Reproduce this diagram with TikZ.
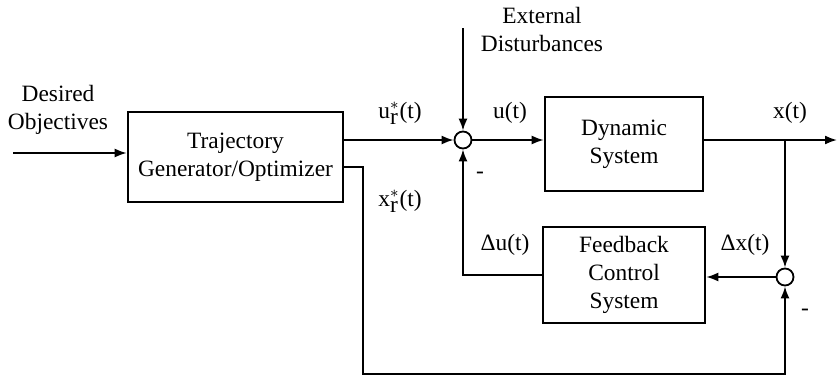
\documentclass[tikz,border=0pt]{standalone}
\usepackage{fontspec}
\setmainfont{Liberation Serif}
\usetikzlibrary{arrows.meta,positioning}

\begin{document}
\begin{tikzpicture}[
    x=0.5pt, y=-0.5pt,
    font=\fontsize{11.7}{14}\selectfont,
    box/.style={draw, line width=1.3pt, align=center, inner sep=0pt},
    sumnode/.style={draw, circle, line width=0.9pt, fill=white, minimum size=8.5pt, inner sep=0pt},
    arr/.style={-{Latex[length=6pt,width=4.5pt]}, line width=0.9pt},
    lbl/.style={align=center, inner sep=0pt},
  ]
    \useasboundingbox (0,0) rectangle (837,377);
    \node[box, minimum width=107.5pt, minimum height=45pt] (traj) at (235.5,157) {Trajectory\\Generator/Optimizer};
    \node[box, minimum width=79pt, minimum height=47pt] (dyn) at (624,144) {Dynamic\\System};
    \node[box, minimum width=81pt, minimum height=48pt] (fb) at (624,275) {Feedback\\Control\\System};
    \node[sumnode] (sum1) at (463,140) {};
    \node[sumnode] (sum2) at (785,277) {};
    \coordinate (in) at (13,153);
    \coordinate (out) at (837,140);
    \coordinate (dist) at (463,28);
    \coordinate (branch) at (785,140);
    \coordinate (xr) at (363,374);
    % labels
    \node[lbl] (obj) at (58,110) {Desired\\Objectives};
    \node[lbl] (ext) at (542,29) {External\\Disturbances};
    \node[lbl] (ur) at (400,113) {u$^{\ast}_{\textrm{r}}$(t)};
    \node[lbl] (xrl) at (400,201) {x$^{\ast}_{\textrm{r}}$(t)};
    \node[lbl] (ul) at (510,113) {u(t)};
    \node[lbl] (xl) at (790,113) {x(t)};
    \node[lbl] (du) at (505,245) {Δu(t)};
    \node[lbl] (dx) at (745,245) {Δx(t)};
    \node[lbl] (m1) at (480,175) {-};
    \node[lbl] (m2) at (805,312) {-};
    % connectors
    \draw[arr] (in) -- (in -| traj.west);
    \draw[arr] (traj.east |- sum1) -- (sum1.west);
    \draw[arr] (dist) -- (sum1.north);
    \draw[arr] (sum1.east) -- (sum1.east -| dyn.west);
    \draw[arr] (dyn.east |- out) -- (out);
    \draw[arr] (branch) -- (sum2.north);
    \draw[arr] (sum2.west) -- (sum2.west -| fb.east);
    \draw[arr] (fb.west) -| (sum1.south);
    \draw[arr] ([yshift=-5pt]traj.east) -| (xr) -| (sum2.south);
  \end{tikzpicture}
\end{document}
